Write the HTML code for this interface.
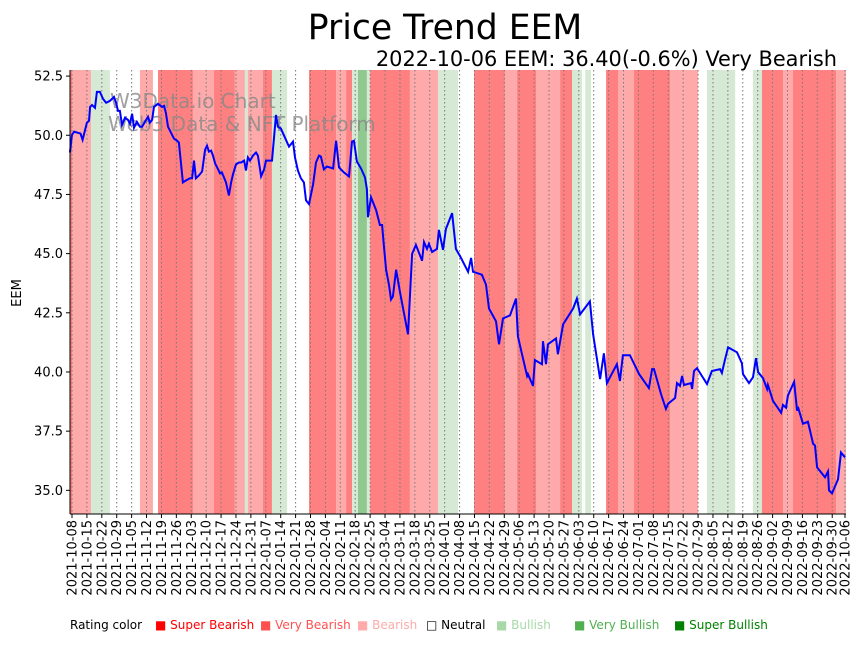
<!DOCTYPE html>
<html><head><meta charset="utf-8"><style>
body{margin:0;background:#fff;width:864px;height:641px;overflow:hidden;font-family:"Liberation Sans","DejaVu Sans",sans-serif}
svg text{font-family:"DejaVu Sans","Liberation Sans",sans-serif}
</style></head><body>
<svg id="chart" width="864" height="641" xmlns="http://www.w3.org/2000/svg">
<text x="445" y="39" font-size="34.6" text-anchor="middle">Price Trend EEM</text>
<text x="837" y="66" font-size="20.9" text-anchor="end">2022-10-06 EEM: 36.40(-0.6%) Very Bearish</text>
<g id="bands"></g>
<g id="grid"></g>
<text x="110" y="108" font-size="20" fill="#888" fill-opacity="0.8">W3Data.io Chart</text>
<text x="108" y="131" font-size="20" fill="#888" fill-opacity="0.8">Web3 Data &amp; NFT Platform</text>
<path id="line" fill="none" stroke="#0000ff" stroke-width="2"/>
<g id="axes"></g>
<text transform="translate(21,293) rotate(-90)" font-size="13" text-anchor="middle">EEM</text>
<g id="legend"></g>
</svg>
<script>
const days=[-1,0,1,4,5,7,8,8.5,9.4,10.8,11.7,13.1,14.6,16,17.8,19.7,20.7,21.6,22.5,23.5,24.9,26.3,27.2,28.2,29.1,30.5,31.9,32.9,34.3,35.7,36.6,37.6,38.5,40.4,42.3,43.2,44.1,45.1,46.5,47.9,49.3,50.2,52.1,53.5,55.4,56.4,57.3,58.2,59.6,61.1,62.5,63.4,64.3,65.3,66.2,67.2,68.6,69.5,70.4,72.3,73.7,74.7,75.6,77,78.4,79.4,80.8,81.7,82.6,83.6,85,86.4,87.3,88.8,90.2,91.1,92,93.9,95.8,96.7,98.1,99.6,101.9,103.8,104.7,106.1,107.5,108.9,109.9,111.3,113.2,114.6,116,116.9,118.3,119.7,122.6,124,125.4,127.7,130.1,131.5,132.4,133.8,135.7,137.6,138.5,139,140.4,142.8,144.6,145.6,146.5,147.5,148.9,149.8,150.7,152.2,154,157.8,159.7,161.5,164.4,165.3,166.7,167.6,169.1,171.4,172.3,174.2,175.6,178.5,180.3,182.2,186,187.4,188.3,192.5,194.4,195.8,199.1,200.5,202.4,205.7,208.5,209.4,211.3,213.7,214.1,216.5,217.4,220.7,221.2,222.6,223.5,227.3,228.2,230.6,235.3,237.1,238.6,243.2,244.7,248,249.8,251.2,255.9,257.3,258.7,262,266.3,270.9,272.4,273.3,276.6,278.9,279.9,283.2,284.1,285.5,286.5,287.4,290.7,291.2,292.1,293.5,298.2,300.5,304.3,305.2,306.7,308.1,312.3,314.6,315.1,317.9,319.8,321.2,322.2,324.5,326.4,326.8,329.2,333,333.9,335.3,336.2,339.1,340.5,340.9,343.3,345.6,348,348.9,349.9,353.6,355,355.5,356.9,359.7,361.1,363];
const prices=[49.27,50.02,50.15,50.07,49.81,50.53,50.61,51.2,51.28,51.16,51.83,51.83,51.53,51.37,51.45,51.62,51.37,51.03,51.03,50.44,50.74,50.65,50.49,50.91,50.32,50.57,50.36,50.36,50.57,50.78,50.53,50.65,51.2,51.33,51.2,51.24,50.95,50.36,50.11,49.86,49.77,49.69,48.01,48.09,48.18,48.18,48.93,48.18,48.3,48.47,49.39,49.56,49.31,49.35,49.14,48.81,48.56,48.39,48.43,48.01,47.46,48.01,48.35,48.77,48.85,48.85,48.93,48.51,49.06,48.93,49.14,49.27,49.14,48.26,48.56,48.93,48.93,48.93,50.86,50.36,50.28,49.98,49.52,49.73,49.06,48.51,48.18,48.01,47.25,47.09,47.93,48.85,49.14,49.1,48.56,48.68,48.6,49.77,48.64,48.43,48.26,49.73,49.77,48.89,48.6,48.22,47.72,46.54,47.38,46.84,46.21,46.21,45.28,44.32,43.65,43.06,43.19,44.32,43.39,41.59,44.99,45.37,44.7,45.49,45.2,45.41,45.07,45.2,46,45.16,46.04,46.71,45.2,44.9,44.23,44.82,44.23,44.11,43.69,42.68,42.14,41.17,42.26,42.39,43.1,41.51,40.75,39.83,39.91,39.41,40.5,40.33,41.3,40.33,41.17,41.42,40.75,42.01,42.68,43.1,42.43,42.98,41.59,39.7,40.79,39.53,40.33,39.62,40.71,40.71,39.91,39.32,40.12,40.12,39.07,38.44,38.65,38.9,39.53,39.41,39.83,39.45,39.53,39.28,40.04,40.16,39.49,40.04,40.12,39.96,40.54,41.04,40.83,40.37,39.91,39.53,39.78,40.58,39.99,39.74,39.28,39.45,38.78,38.28,38.61,38.49,39,39.58,38.36,38.53,37.81,37.9,36.97,36.89,35.97,35.55,35.8,35,34.87,35.46,36.6,36.39];
const bandStart=[-1,0,8.9,31.9,40.4,56.8,66.7,76.5,81.2,82.6,89.7,93.9,111.3,124,128.7,131.5,134.3,138.5,140,158.7,171.9,188.8,203.3,209,217.9,229.2,234.8,241,250.8,256.4,263.9,280.8,298.2,319.8,324,333.9,338.6,358.8];
const bandEnd=[0,8.9,17.8,38,56.8,66.7,76.5,81.2,82.6,89.7,93.9,101,124,128.7,131.5,134.3,138.5,140,158.7,171.9,181.3,203.3,209,217.9,229.2,234.8,239.5,243.7,256.4,263.9,280.8,294,311.4,324,333.9,338.6,358.8,363.5];
const bandRating=[-2,-1,1,-1,-2,-1,-2,-1,1,-1,-2,1,-2,-1,-2,1,2,1,-2,-1,1,-2,-1,-2,-1,-2,1,1,-2,-1,-2,-1,1,1,-2,-1,-2,-1];
const yTicks=[35,37.5,40,42.5,45,47.5,50,52.5];
const NS='http://www.w3.org/2000/svg';
const X0=72,XS=773/363,Y0=514,YMIN=34.0,YS=441/18.63;
const x=d=>X0+d*XS, y=p=>Y0-(p-YMIN)*YS;
const colors={'-3':'#ff0000','-2':'#ff8080','-1':'#ffaaaa','0':'#ffffff','1':'#d5e9d5','2':'#90c990','3':'#008000'};
function mk(t,a,par){const e=document.createElementNS(NS,t);for(const k in a)e.setAttribute(k,a[k]);document.getElementById(par).appendChild(e);return e;}
for(let i=0;i<bandStart.length;i++){
 const r=mk('rect',{x:x(bandStart[i]),y:70,width:x(bandEnd[i])-x(bandStart[i]),height:444,fill:colors[bandRating[i]]},'bands');
 
 
}
const base=new Date(Date.UTC(2021,9,8));
const tickDays=[];for(let d=0;d<=357;d+=7)tickDays.push(d);tickDays.push(363);
tickDays.forEach(d=>{
 const l=mk('line',{x1:x(d),x2:x(d),y1:70,y2:514,stroke:'#777','stroke-width':1,'stroke-dasharray':'1.5,2.5'},'grid');
 
 
 const tk=mk('line',{x1:x(d),x2:x(d),y1:514,y2:518,stroke:'#000'},'axes');
 
 
 const dt=new Date(base.getTime()+d*86400000);
 const s=dt.toISOString().slice(0,10);
 const t=mk('text',{transform:`translate(${x(d)+4.5},520) rotate(-90)`,'font-size':13,'text-anchor':'end'},'axes');
 t.textContent=s;
 
 
});
let dstr='';days.forEach((d,i)=>{dstr+=(i?'L':'M')+x(d).toFixed(1)+','+y(prices[i]).toFixed(1);});
document.getElementById('line').setAttribute('d',dstr);
yTicks.forEach(v=>{
 const tk=mk('line',{x1:66,x2:70,y1:y(v),y2:y(v),stroke:'#000'},'axes');
 
 
 const t=mk('text',{x:63,y:y(v)+4.5,'font-size':13,'text-anchor':'end'},'axes');
 t.textContent=v.toFixed(1);
 
 
});
const ls=mk('line',{x1:70,x2:70,y1:70,y2:514,stroke:'#000'},'axes');


const bs=mk('line',{x1:70,x2:846,y1:514,y2:514,stroke:'#000'},'axes');


const legNames=['Super Bearish','Very Bearish','Bearish','Neutral','Bullish','Very Bullish','Super Bullish'];
const legColors=['#ff0000','#ff5050','#ffaaaa','#000000','#a8d8a8','#50b050','#008000'];
const legX=[155,260,357,426,496,574,674];
const lt=mk('text',{x:70,y:629,'font-size':12},'legend');
lt.textContent='Rating color';


legNames.forEach((n,i)=>{
 const t=mk('text',{x:legX[i],y:629,'font-size':12,fill:i==3?'#000':legColors[i]},'legend');
 t.textContent=(i==3?'\u25A1':'\u25A0')+' '+n;
 
 
});
</script>
</body></html>
